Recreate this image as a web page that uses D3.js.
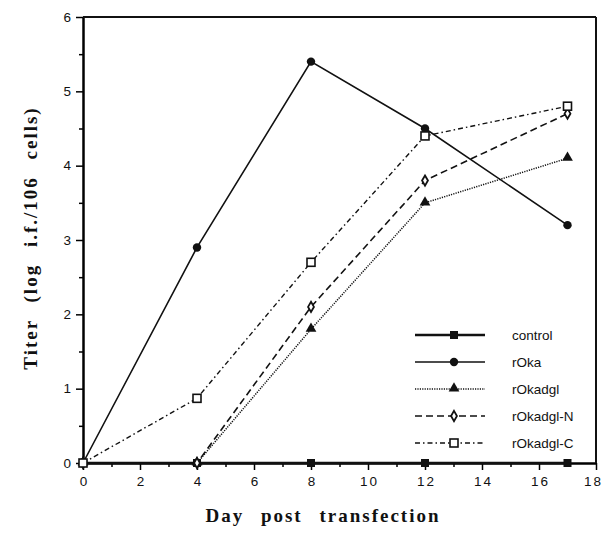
<!DOCTYPE html>
<html>
<head>
<meta charset="utf-8">
<script src="https://cdn.jsdelivr.net/npm/d3@7"></script>
<style>
  body { margin: 0; background: #fff; }
  .tick text { font-family: "Liberation Sans", Arial, sans-serif; font-size: 13.5px; fill: #111; }
  .xaxis .tick text { letter-spacing: 2px; }
  .legend text { font-family: "Liberation Sans", Arial, sans-serif; font-size: 13.5px; fill: #111; }
  .axis-title { font-family: "Liberation Serif", "Times New Roman", serif; font-weight: bold; font-size: 19px; fill: #111; letter-spacing: 2px; word-spacing: 10px; }
</style>
</head>
<body>
<script>
// data
var days = [0, 4, 8, 12, 17];
var series_names = ["control", "rOka", "rOkadgl", "rOkadgl-N", "rOkadgl-C"];
var control   = [0, 0, 0, 0, 0];
var rOka      = [0, 2.9, 5.4, 4.5, 3.2];
var rOkadgl   = [0, 0, 1.8, 3.5, 4.1];
var rOkadglN  = [0, 0, 2.1, 3.8, 4.7];
var rOkadglC  = [0, 0.87, 2.7, 4.4, 4.8];
var x_ticks = [0, 2, 4, 6, 8, 10, 12, 14, 16, 18];
var y_ticks = [0, 1, 2, 3, 4, 5, 6];

var values = [control, rOka, rOkadgl, rOkadglN, rOkadglC];
var styles = [
  {dash: null,          width: 2.5, marker: "square"},
  {dash: null,          width: 1.6, marker: "circle"},
  {dash: "1.2,1.2",     width: 1.5, marker: "triangle"},
  {dash: "7,4",         width: 1.6, marker: "diamond"},
  {dash: "5,3,1.5,3",   width: 1.4, marker: "osquare"}
];

var margin = {top: 17, right: 10, bottom: 72, left: 83},
    width = 596 - margin.left,
    height = 463 - margin.top;

var svg = d3.select("body").append("svg")
    .attr("width", 606)
    .attr("height", 535)
  .append("g")
    .attr("transform", "translate(" + margin.left + "," + margin.top + ")");

var x = d3.scaleLinear().domain([0, 18]).range([0, width]);
var y = d3.scaleLinear().domain([0, 6]).range([height, 0]);

// minor ticks
svg.append("g")
    .attr("transform", "translate(0," + height + ")")
    .call(d3.axisBottom(x).tickValues(d3.range(1, 18, 2)).tickSize(4).tickFormat(""))
    .call(function(g) { g.select(".domain").remove(); g.selectAll("line").attr("stroke-width", 1.5); });
svg.append("g")
    .call(d3.axisLeft(y).tickValues(d3.range(0.5, 6, 1)).tickSize(4).tickFormat(""))
    .call(function(g) { g.select(".domain").remove(); g.selectAll("line").attr("stroke-width", 1.5); });

var xAxis = svg.append("g")
    .attr("class", "xaxis")
    .attr("transform", "translate(0," + height + ")")
    .call(d3.axisBottom(x).tickValues(x_ticks).tickSize(7).tickSizeOuter(0).tickPadding(6).tickFormat(d3.format("d")));
xAxis.select(".domain").attr("stroke-width", 2.5);
xAxis.selectAll("line").attr("stroke-width", 1.5);
xAxis.selectAll(".tick text").attr("dx", function(d) { return d === 18 ? "-3px" : "1px"; });

var yAxis = svg.append("g")
    .call(d3.axisLeft(y).tickValues(y_ticks).tickSize(7).tickSizeOuter(0).tickPadding(5).tickFormat(d3.format("d")));
yAxis.select(".domain").attr("stroke-width", 2.5);
yAxis.selectAll("line").attr("stroke-width", 1.5);

// frame top and right
svg.append("line").attr("x1", 0).attr("x2", width).attr("y1", 0).attr("y2", 0)
    .attr("stroke", "#111").attr("stroke-width", 2);
svg.append("line").attr("x1", width).attr("x2", width).attr("y1", 0).attr("y2", height)
    .attr("stroke", "#111").attr("stroke-width", 2);

function drawMarker(g, type, cx, cy) {
  if (type === "square") {
    g.append("rect").attr("x", cx - 4).attr("y", cy - 4).attr("width", 8).attr("height", 8).attr("fill", "#111");
  } else if (type === "circle") {
    g.append("circle").attr("cx", cx).attr("cy", cy).attr("r", 4.2).attr("fill", "#111");
  } else if (type === "triangle") {
    g.append("path").attr("d", d3.symbol().type(d3.symbolTriangle).size(50)())
      .attr("transform", "translate(" + cx + "," + (cy - 0.5) + ")").attr("fill", "#111");
  } else if (type === "diamond") {
    g.append("path").attr("d", d3.symbol().type(d3.symbolDiamond).size(30)())
      .attr("transform", "translate(" + cx + "," + cy + ")")
      .attr("fill", "#fff").attr("stroke", "#111").attr("stroke-width", 1.8);
  } else {
    g.append("rect").attr("x", cx - 4).attr("y", cy - 4).attr("width", 8).attr("height", 8)
      .attr("fill", "#fff").attr("stroke", "#111").attr("stroke-width", 1.6);
  }
}

var line = d3.line()
    .x(function(d) { return x(d[0]); })
    .y(function(d) { return y(d[1]); });

values.forEach(function(vals, i) {
  var pts = days.map(function(d, j) { return [d, vals[j]]; });
  svg.append("path")
      .datum(pts)
      .attr("fill", "none")
      .attr("stroke", "#111")
      .attr("stroke-width", styles[i].width)
      .attr("stroke-dasharray", styles[i].dash)
      .attr("d", line);
});
// markers drawn after lines
[0, 2, 3, 1, 4].forEach(function(i) {
  var g = svg.append("g");
  days.forEach(function(d, j) {
    drawMarker(g, styles[i].marker, x(d), y(values[i][j]));
  });
});

// legend
var legend = svg.append("g").attr("class", "legend")
    .attr("transform", "translate(" + (415 - margin.left) + "," + (335 - margin.top) + ")");
series_names.forEach(function(name, i) {
  var row = legend.append("g").attr("transform", "translate(0," + (i * 27) + ")");
  row.append("line").attr("x1", 0).attr("x2", 70).attr("y1", 0).attr("y2", 0)
      .attr("stroke", "#111").attr("stroke-width", styles[i].width)
      .attr("stroke-dasharray", styles[i].dash);
  drawMarker(row, styles[i].marker, 39, 0);
  row.append("text").attr("x", 97).attr("y", 5).text(name);
});

// axis titles
svg.append("text").attr("class", "axis-title")
    .attr("x", 323 - margin.left).attr("y", 522 - margin.top)
    .attr("text-anchor", "middle")
    .text("Day post transfection");

svg.append("text").attr("class", "axis-title")
    .attr("transform", "translate(" + (37 - margin.left) + "," + (238 - margin.top) + ") rotate(-90)")
    .attr("text-anchor", "middle")
    .text("Titer (log i.f./106 cells)");
</script>
</body>
</html>
